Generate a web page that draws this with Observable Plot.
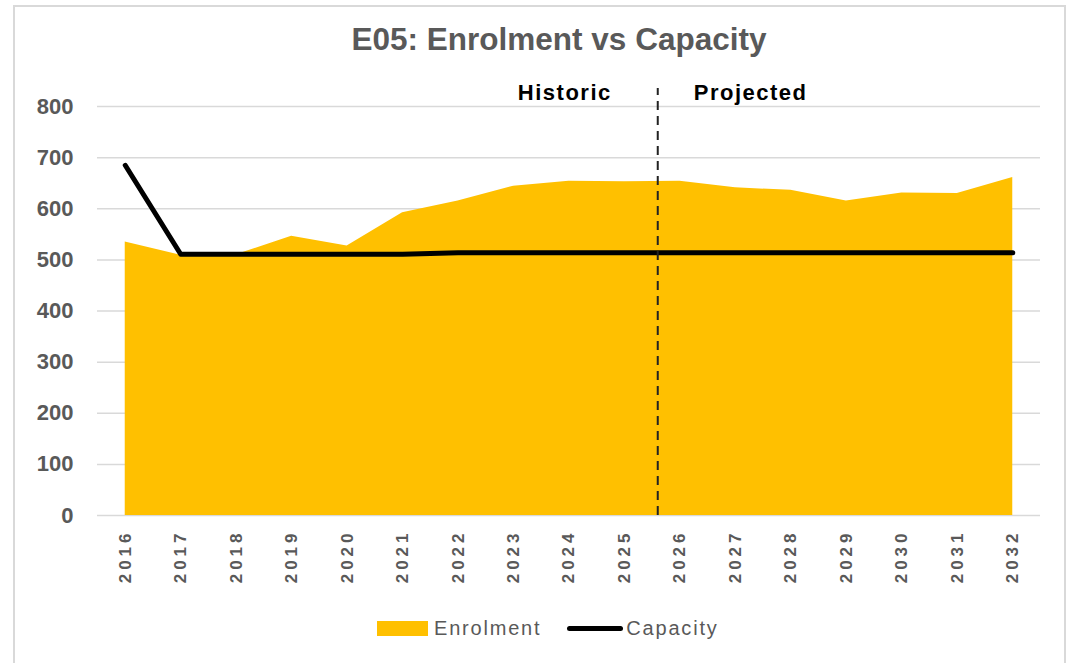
<!DOCTYPE html>
<html>
<head>
<meta charset="utf-8">
<script src="https://cdn.jsdelivr.net/npm/d3@7"></script>
<script src="https://cdn.jsdelivr.net/npm/@observablehq/plot@0.6"></script>
<style>
  html, body { margin: 0; padding: 0; background: #fff; }
  body { width: 1070px; height: 663px; position: relative; overflow: hidden; font-family: "Liberation Sans", Arial, sans-serif; }
  #frame { position: absolute; left: 13px; top: 5px; width: 1053px; height: 700px; border: 2px solid #d9d9d9; box-sizing: border-box; }
  #title { position: absolute; left: 0; width: 1118px; top: 21px; text-align: center; font-weight: bold; font-size: 31.5px; color: #595959; }
  #chart { position: absolute; left: 0; top: 60px; }
  #legend { position: absolute; top: 617px; left: 377px; display: flex; align-items: center; font-size: 20px; color: #595959; letter-spacing: 1.8px; }
  .sw { width: 51px; height: 15px; background: #FFC000; margin-right: 6px; }
  .ln { width: 56px; height: 5px; background: #000; border-radius: 3px; margin-left: 26px; margin-right: 3px; }
</style>
</head>
<body>
<div id="frame"></div>
<div id="title">E05: Enrolment vs Capacity</div>
<div id="chart"></div>
<div id="legend"><div class="sw"></div><span>Enrolment</span><div class="ln"></div><span>Capacity</span></div>
<script>
const years = [2016, 2017, 2018, 2019, 2020, 2021, 2022, 2023, 2024, 2025, 2026, 2027, 2028, 2029, 2030, 2031, 2032];
const enrolment = [535, 509, 510, 546, 527, 592, 615, 644, 654, 653, 654, 641, 636, 615, 631, 630, 661];
const capacity = [685, 511, 511, 511, 511, 511, 514, 514, 514, 514, 514, 514, 514, 514, 514, 514, 514];
const yTicks = [0, 100, 200, 300, 400, 500, 600, 700, 800];
const dividerYear = 2025.6;
const periodLabels = ["Historic", "Projected"];

const data = years.map((y, i) => ({year: y, enrolment: enrolment[i], capacity: capacity[i]}));

const plot = Plot.plot({
  width: 1070,
  height: 540,
  marginTop: 46,
  marginBottom: 85,
  marginLeft: 97,
  marginRight: 30,
  style: {fontFamily: "'Liberation Sans', Arial, sans-serif", background: "transparent", overflow: "visible"},
  x: {type: "linear", domain: [2015.5, 2032.5]},
  y: {domain: [0, 800]},
  marks: [
    Plot.ruleY(yTicks, {stroke: "#d9d9d9", strokeWidth: 1.5}),
    Plot.areaY(data, {x: "year", y: "enrolment", fill: "#FFC000"}),
    Plot.lineY(data, {x: "year", y: "capacity", stroke: "#000", strokeWidth: 5, strokeLinecap: "round", strokeLinejoin: "round"}),
    Plot.ruleX([dividerYear], {y1: 0, y2: 835, stroke: "#222", strokeWidth: 2, strokeDasharray: "9,6"}),
    Plot.text([periodLabels[0]], {x: dividerYear, y: 826, text: d => d, textAnchor: "end", dx: -46, fontSize: 22, fontWeight: "bold", fill: "#000"}),
    Plot.text([periodLabels[1]], {x: dividerYear, y: 826, text: d => d, textAnchor: "start", dx: 36, fontSize: 22, fontWeight: "bold", fill: "#000"}),
    Plot.axisY({ticks: yTicks, tickSize: 0, tickPadding: 24, fontSize: 22, fontWeight: "bold", fill: "#595959", label: null}),
    Plot.axisX({ticks: years, tickFormat: d => String(d), tickRotate: -90, tickSize: 0, tickPadding: 14, fontSize: 17, fontWeight: "bold", fill: "#595959", label: null})
  ]
});
document.getElementById("chart").appendChild(plot);
d3.select(plot).selectAll('g[aria-label="x-axis tick label"] text').style("letter-spacing", "4px");
d3.select(plot).selectAll('g[aria-label="text"] text').style("letter-spacing", "1.5px");
</script>
</body>
</html>
